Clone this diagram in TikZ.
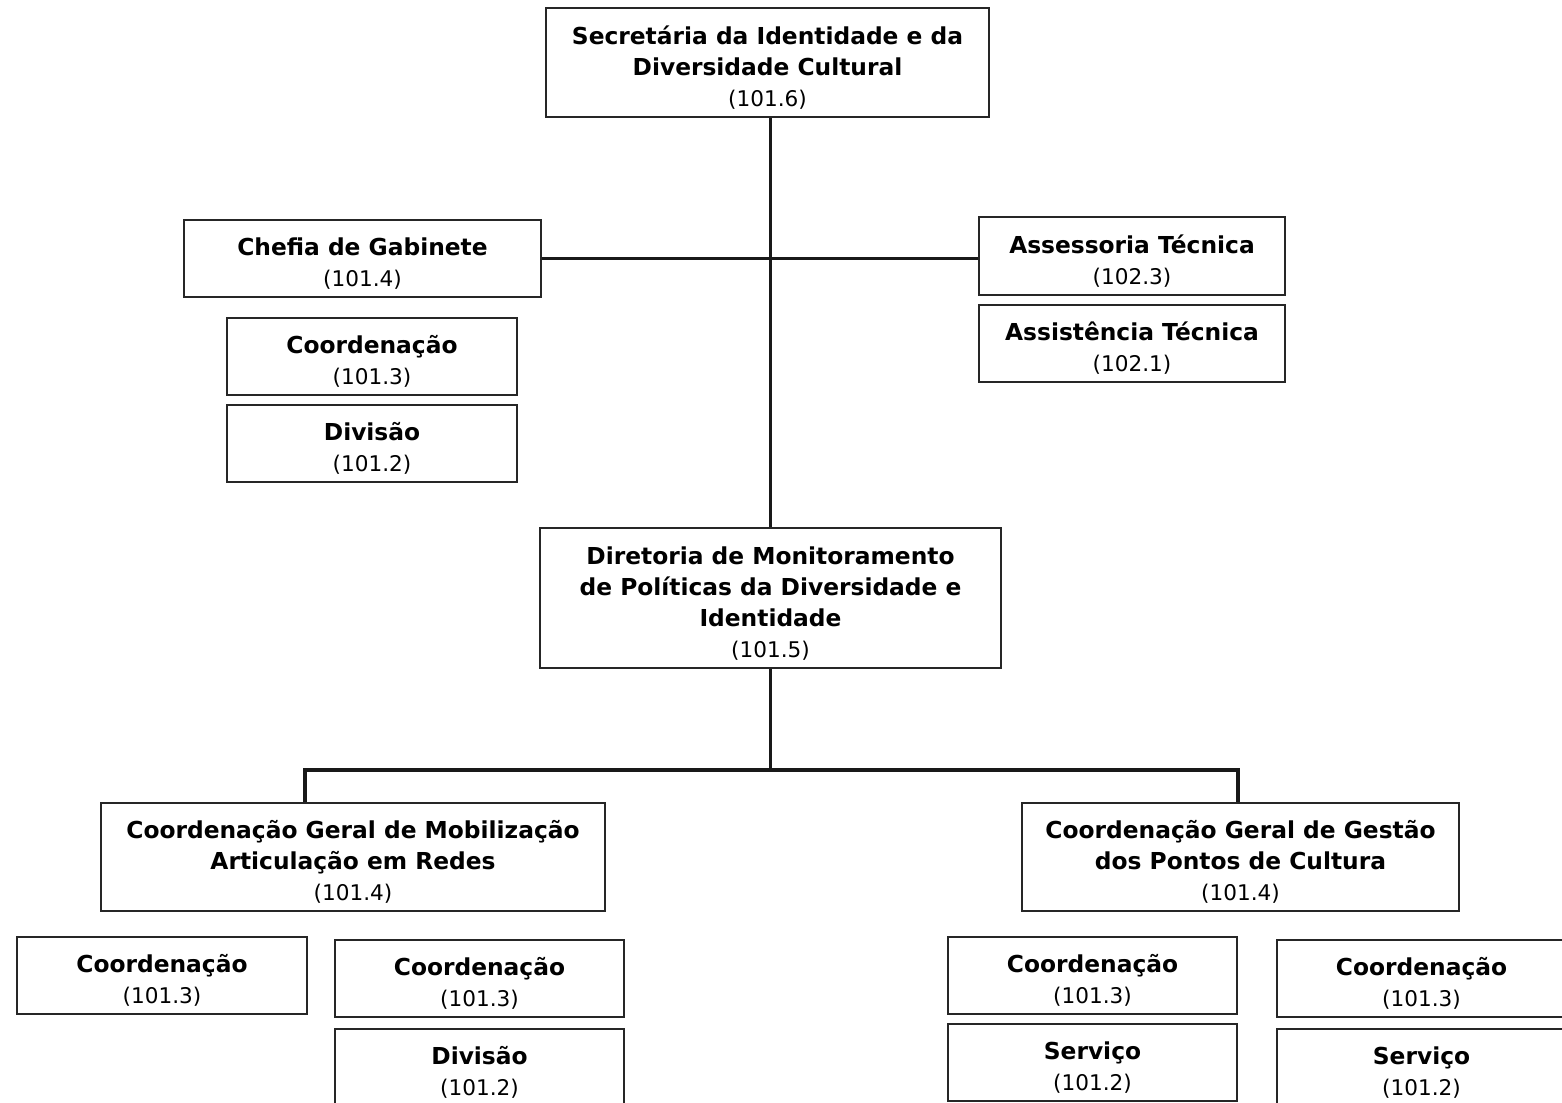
\documentclass[tikz,border=0pt]{standalone}
\usepackage{fontspec}
\setmainfont{DejaVu Sans}

\tikzset{every picture/.style={line width=0.75pt}}
\tikzset{
  unit/.style={draw=black!85, line width=1.1pt, align=center, inner sep=0pt,
    font=\fontsize{17.5}{23.25}\selectfont},
  link/.style={draw=black!90, line width=2.4pt},
}
\newcommand{\hd}[1]{\rule{0pt}{21.5pt}\textbf{#1}}
\newcommand{\nm}[1]{\textbf{#1}}
\newcommand{\cod}[1]{{\fontsize{16.2}{23.25}\selectfont #1}}

\begin{document}
\begin{tikzpicture}[x=0.75pt,y=0.75pt,yscale=-1,xscale=1]
\useasboundingbox (0,0) rectangle (1562,1102);

%Top level
\node [unit, minimum width=443*0.75pt, minimum height=109*0.75pt] (sec) at (767.5,62.5) {\hd{Secretária da Identidade e da}\\\nm{Diversidade Cultural}\\\cod{(101.6)}};

%Left staff units
\node [unit, minimum width=357*0.75pt, minimum height=77*0.75pt] (chefia) at (362.5,258.5) {\hd{Chefia de Gabinete}\\\cod{(101.4)}};
\node [unit, minimum width=290*0.75pt, minimum height=77*0.75pt] (coordA) at (372,356.5) {\hd{Coordenação}\\\cod{(101.3)}};
\node [unit, minimum width=290*0.75pt, minimum height=77*0.75pt] (divA) at (372,443.5) {\hd{Divisão}\\\cod{(101.2)}};

%Right staff units
\node [unit, minimum width=306*0.75pt, minimum height=78*0.75pt] (assess) at (1132,256) {\hd{Assessoria Técnica}\\\cod{(102.3)}};
\node [unit, minimum width=306*0.75pt, minimum height=77*0.75pt] (assist) at (1132,343.5) {\hd{Assistência Técnica}\\\cod{(102.1)}};

%Directorate
\node [unit, minimum width=461*0.75pt, minimum height=140*0.75pt] (dir) at (770.5,598) {\hd{Diretoria de Monitoramento}\\\nm{de Políticas da Diversidade e}\\\nm{Identidade}\\\cod{(101.5)}};

%General coordinations
\node [unit, minimum width=504*0.75pt, minimum height=108*0.75pt] (cgm) at (353,857) {\hd{Coordenação Geral de Mobilização}\\\nm{Articulação em Redes}\\\cod{(101.4)}};
\node [unit, minimum width=437*0.75pt, minimum height=108*0.75pt] (cgg) at (1240.5,857) {\hd{Coordenação Geral de Gestão}\\\nm{dos Pontos de Cultura}\\\cod{(101.4)}};

%Bottom units, left
\node [unit, minimum width=290*0.75pt, minimum height=77*0.75pt] (coordB) at (162,975.5) {\hd{Coordenação}\\\cod{(101.3)}};
\node [unit, minimum width=289*0.75pt, minimum height=77*0.75pt] (coordC) at (479.5,978.5) {\hd{Coordenação}\\\cod{(101.3)}};
\node [unit, minimum width=289*0.75pt, minimum height=77*0.75pt] (divC) at (479.5,1067.5) {\hd{Divisão}\\\cod{(101.2)}};

%Bottom units, right
\node [unit, minimum width=289*0.75pt, minimum height=77*0.75pt] (coordD) at (1092.5,975.5) {\hd{Coordenação}\\\cod{(101.3)}};
\node [unit, minimum width=289*0.75pt, minimum height=77*0.75pt] (servD) at (1092.5,1062.5) {\hd{Serviço}\\\cod{(101.2)}};
\node [unit, minimum width=289*0.75pt, minimum height=77*0.75pt] (coordE) at (1421.5,978.5) {\hd{Coordenação}\\\cod{(101.3)}};
\node [unit, minimum width=289*0.75pt, minimum height=77*0.75pt] (servE) at (1421.5,1067.5) {\hd{Serviço}\\\cod{(101.2)}};

%Connectors
\draw [link] (dir.north) -- (dir.north |- sec.south);
\draw [link] (chefia.east) -- (chefia.east -| assess.west);
\coordinate (bl) at (305,770);
\coordinate (br) at (1238,770);
\draw [link] (dir.south) -- (dir.south |- bl);
\draw [link] (cgm.north -| bl) -- (bl) -- (br) -- (br |- cgg.north);

\end{tikzpicture}
\end{document}
